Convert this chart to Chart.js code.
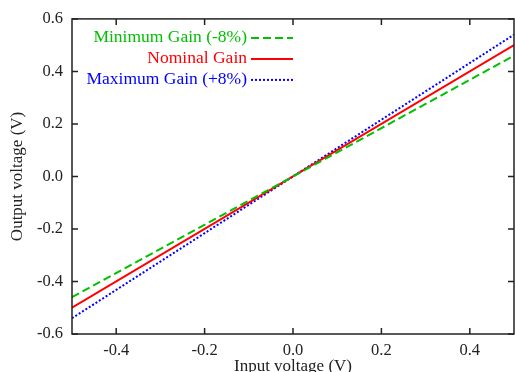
<!DOCTYPE html>
<html>
<head>
<meta charset="utf-8">
<script src="https://cdn.jsdelivr.net/npm/chart.js@4/dist/chart.umd.min.js"></script>
<style>
  html, body { margin: 0; padding: 0; background: #fff; }
  #wrap { width: 515px; height: 372px; }
</style>
</head>
<body>
<div id="wrap"><canvas id="gainChart" width="515" height="372"></canvas></div>
<script>
// input voltage endpoints and the three transfer lines
const inputV = [-0.5, 0.5];
const minGainOut = [-0.46, 0.46];
const nominalOut = [-0.5, 0.5];
const maxGainOut = [-0.54, 0.54];

const seriesLabels = ['Minimum Gain (-8%)', 'Nominal Gain', 'Maximum Gain (+8%)'];
const xTicks = [-0.4, -0.2, 0.0, 0.2, 0.4];
const yTicks = [-0.6, -0.4, -0.2, 0.0, 0.2, 0.4, 0.6];

const serif = "'Liberation Serif', 'DejaVu Serif', serif";

function toPoints(xs, ys) {
	return xs.map((x, i) => ({x: x, y: ys[i]}));
}

// frame with inward ticks on all four sides, plus the legend in the top left
const framePlugin = {
	id: 'frame',
	afterDatasetsDraw(chart) {
		const {ctx, chartArea: a, scales} = chart;
		ctx.save();
		ctx.strokeStyle = '#222';
		ctx.lineWidth = 1.5;
		ctx.strokeRect(a.left, a.top, a.right - a.left, a.bottom - a.top);
		const len = 6;
		ctx.beginPath();
		for (const v of xTicks) {
			const px = scales.x.getPixelForValue(v);
			ctx.moveTo(px, a.bottom); ctx.lineTo(px, a.bottom - len);
			ctx.moveTo(px, a.top); ctx.lineTo(px, a.top + len);
		}
		for (const v of yTicks) {
			const py = scales.y.getPixelForValue(v);
			ctx.moveTo(a.left, py); ctx.lineTo(a.left + len, py);
			ctx.moveTo(a.right, py); ctx.lineTo(a.right - len, py);
		}
		ctx.stroke();

		// legend: right-aligned text, sample line to the right
		ctx.font = "17.5px " + serif;
		ctx.textAlign = 'right';
		ctx.textBaseline = 'middle';
		const textX = a.left + 175;
		chart.data.datasets.forEach((ds, i) => {
			const y = a.top + 19 + i * 21;
			ctx.fillStyle = ds.borderColor;
			ctx.fillText(ds.label, textX, y);
			ctx.strokeStyle = ds.borderColor;
			ctx.lineWidth = ds.borderWidth;
			ctx.setLineDash(ds.borderDash || []);
			ctx.beginPath();
			ctx.moveTo(textX + 4, y);
			ctx.lineTo(textX + 46, y);
			ctx.stroke();
		});
		ctx.restore();
	}
};

const gainChart = new Chart(document.getElementById('gainChart'), {
	type: 'line',
	data: {
		datasets: [
			{
				label: seriesLabels[0],
				data: toPoints(inputV, minGainOut),
				borderColor: '#00c000',
				borderWidth: 2,
				borderDash: [8, 4],
				pointRadius: 0
			},
			{
				label: seriesLabels[1],
				data: toPoints(inputV, nominalOut),
				borderColor: '#ff0000',
				borderWidth: 2,
				pointRadius: 0
			},
			{
				label: seriesLabels[2],
				data: toPoints(inputV, maxGainOut),
				borderColor: '#0000ff',
				borderWidth: 2,
				borderDash: [2, 2],
				pointRadius: 0
			}
		]
	},
	options: {
		responsive: false,
		animation: false,
		layout: { padding: { top: 16, right: 1, left: 0, bottom: 0 } },
		plugins: {
			legend: { display: false },
			tooltip: { enabled: false }
		},
		scales: {
			x: {
				type: 'linear',
				min: -0.5,
				max: 0.5,
				afterBuildTicks: (s) => { s.ticks = xTicks.map(v => ({value: v})); },
				afterFit: (s) => { s.height = 38; },
				grid: { display: false, drawTicks: false },
				border: { display: false },
				ticks: {
					color: '#222',
					padding: 7,
					font: { family: serif, size: 16.5 },
					callback: (v) => Number(v).toFixed(1)
				},
				title: {
					display: true,
					text: 'Input voltage (V)',
					color: '#222',
					font: { family: serif, size: 17, lineHeight: 1 },
					padding: { top: 0, bottom: -3 }
				}
			},
			y: {
				min: -0.6,
				max: 0.6,
				afterBuildTicks: (s) => { s.ticks = yTicks.map(v => ({value: v})); },
				afterFit: (s) => { s.width = 72; },
				grid: { display: false, drawTicks: false },
				border: { display: false },
				ticks: {
					color: '#222',
					padding: 9,
					font: { family: serif, size: 16.5 },
					callback: (v) => Number(v).toFixed(1)
				},
				title: {
					display: true,
					text: 'Output voltage (V)',
					color: '#222',
					font: { family: serif, size: 17, lineHeight: 1 },
					padding: { top: 9.5, bottom: 0 }
				}
			}
		}
	},
	plugins: [framePlugin]
});
</script>
</body>
</html>
